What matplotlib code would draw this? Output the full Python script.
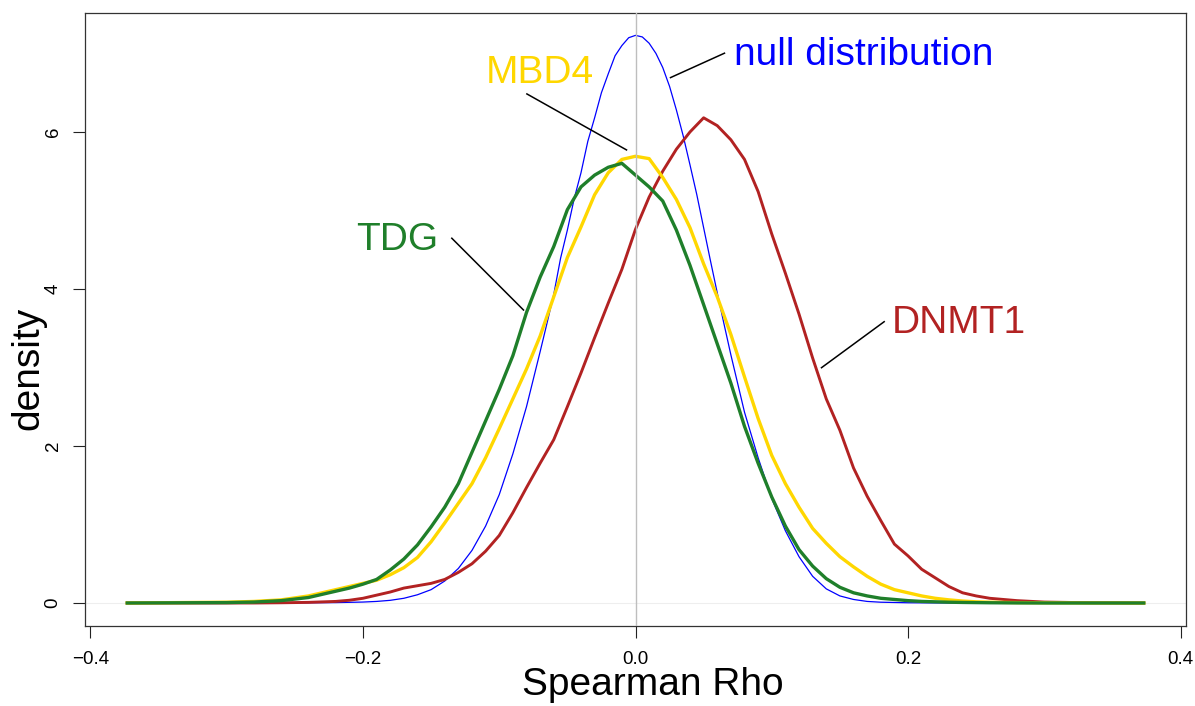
import matplotlib
matplotlib.use("Agg")
import matplotlib.pyplot as plt

plt.rcParams['font.family'] = ['Liberation Sans', 'DejaVu Sans']

# ---- data ----
rho = [-0.373, -0.30, -0.28, -0.26, -0.24, -0.22,
       -0.21, -0.20, -0.19, -0.18, -0.17, -0.16, -0.15, -0.14, -0.13, -0.12,
       -0.11, -0.10, -0.09, -0.08, -0.07, -0.06, -0.05, -0.04, -0.03, -0.02,
       -0.01, 0.00, 0.01, 0.02, 0.03, 0.04, 0.05, 0.06, 0.07, 0.08,
       0.09, 0.10, 0.11, 0.12, 0.13, 0.14, 0.15, 0.16, 0.17, 0.18,
       0.19, 0.20, 0.21, 0.22, 0.23, 0.24, 0.25, 0.26,
       0.28, 0.30, 0.33, 0.373]

null_rho = [-0.373, -0.30, -0.26, -0.22, -0.20, -0.19, -0.18, -0.17, -0.16,
            -0.15, -0.14, -0.13, -0.12, -0.11, -0.10, -0.09, -0.08, -0.07,
            -0.065, -0.06, -0.055, -0.05, -0.045, -0.04, -0.035, -0.03,
            -0.025, -0.02, -0.015, -0.01, -0.005, 0.0, 0.005, 0.01, 0.015,
            0.02, 0.025, 0.03, 0.035, 0.04, 0.045, 0.05, 0.055, 0.06, 0.065,
            0.07, 0.08, 0.09, 0.10, 0.11, 0.12, 0.13, 0.14, 0.15, 0.16, 0.17,
            0.18, 0.20, 0.22, 0.26, 0.30, 0.373]

null_density = [0, 0, 0.001, 0.005, 0.012, 0.020, 0.034, 0.06, 0.105,
                0.17, 0.28, 0.44, 0.67, 0.98, 1.38, 1.90, 2.50, 3.20,
                3.56, 3.93, 4.39, 4.75, 5.15, 5.48, 5.88, 6.18,
                6.50, 6.74, 6.97, 7.10, 7.20, 7.23, 7.21, 7.13, 7.00,
                6.82, 6.58, 6.28, 5.95, 5.58, 5.20, 4.78, 4.36, 3.95, 3.55,
                3.16, 2.43, 1.85, 1.33, 0.92, 0.59, 0.34, 0.18, 0.09, 0.045, 0.02,
                0.01, 0.003, 0.001, 0, 0, 0]

tdg_density = [0, 0.005, 0.012, 0.03, 0.07, 0.15,
               0.19, 0.24, 0.30, 0.42, 0.56, 0.74, 0.97, 1.22, 1.52, 1.92,
               2.32, 2.72, 3.15, 3.70, 4.15, 4.54, 5.01, 5.30, 5.45, 5.55,
               5.60, 5.45, 5.30, 5.12, 4.75, 4.30, 3.80, 3.30, 2.80, 2.25,
               1.78, 1.35, 0.98, 0.68, 0.47, 0.31, 0.20, 0.13, 0.09, 0.06,
               0.045, 0.03, 0.02, 0.015, 0.01, 0.007, 0.005, 0.003,
               0.001, 0, 0, 0]

mbd4_density = [0, 0.01, 0.02, 0.04, 0.09, 0.17,
                0.21, 0.25, 0.29, 0.36, 0.45, 0.58, 0.78, 1.02, 1.27, 1.52,
                1.85, 2.22, 2.60, 2.98, 3.40, 3.90, 4.40, 4.79, 5.20, 5.48,
                5.65, 5.69, 5.66, 5.42, 5.14, 4.78, 4.32, 3.90, 3.42, 2.88,
                2.35, 1.88, 1.52, 1.22, 0.95, 0.76, 0.59, 0.46, 0.34, 0.24,
                0.17, 0.13, 0.09, 0.06, 0.04, 0.025, 0.015, 0.01,
                0.005, 0.003, 0.001, 0]

dnmt1_density = [0, 0, 0, 0.003, 0.008, 0.02,
                 0.035, 0.06, 0.10, 0.14, 0.19, 0.22, 0.25, 0.30, 0.39, 0.50,
                 0.66, 0.86, 1.15, 1.47, 1.78, 2.08, 2.50, 2.93, 3.38, 3.82,
                 4.25, 4.76, 5.17, 5.50, 5.78, 6.00, 6.18, 6.08, 5.90, 5.65,
                 5.24, 4.70, 4.20, 3.68, 3.12, 2.60, 2.20, 1.72, 1.36, 1.05,
                 0.75, 0.60, 0.43, 0.32, 0.21, 0.13, 0.09, 0.06,
                 0.03, 0.012, 0.004, 0]

x_ticks = [-0.4, -0.2, 0.0, 0.2, 0.4]
x_tick_labels = ["\u22120.4", "\u22120.2", "0.0", "0.2", "0.4"]
y_ticks = [0, 2, 4, 6]
y_tick_labels = ["0", "2", "4", "6"]

# ---- figure ----
W, H = 1195, 706
fig = plt.figure(figsize=(W / 100, H / 100), dpi=100)
ax = fig.add_axes([85 / W, (H - 626) / H, (1186 - 85) / W, (626 - 12.6) / H])

ax.axhline(0, color='#eeeeee', lw=0.8, zorder=1)

ax.plot(null_rho, null_density, color='#0000FF', lw=0.9, zorder=2)
ax.plot(rho, dnmt1_density, color='#B22222', lw=2.1, zorder=3,
        solid_joinstyle='round')
ax.plot(rho, mbd4_density, color='#FFD700', lw=2.4, zorder=4,
        solid_joinstyle='round')
ax.plot(rho, tdg_density, color='#1F7F2A', lw=2.4, zorder=5,
        solid_joinstyle='round')

ax.axvline(0, color='#BEBEBE', lw=1.0, zorder=6)

ax.set_xlim(-0.404, 0.404)
ax.set_ylim(-0.293, 7.52)

ax.set_xticks(x_ticks)
ax.set_xticklabels(x_tick_labels)
ax.set_yticks(y_ticks)
ax.set_yticklabels(y_tick_labels, rotation=90, va='center')
ax.tick_params(axis='both', direction='out', length=8.8, width=0.8,
               labelsize=13.5, color='#222222')
ax.tick_params(axis='x', pad=9.5)
ax.tick_params(axis='y', pad=8)
for s in ax.spines.values():
    s.set_linewidth(0.9)
    s.set_color('#333333')

ax.set_xlabel("Spearman Rho", fontsize=28, va='baseline')
ax.xaxis.set_label_coords(0.516, -0.113)
ax.set_ylabel("density", fontsize=28, va='center')
ax.yaxis.set_label_coords(-57 / (1186 - 85), 0.42)

# ---- annotations ----
fs = 28
ax.text(0.1673, 6.854, "null distribution", color='#0000FF', fontsize=fs,
        ha='center', va='baseline')
ax.plot([0.0257, 0.0653], [6.692, 7.003], color='black', lw=1.1, zorder=7)

ax.text(-0.0701, 6.62, "MBD4", color='#FFD700', fontsize=fs,
        ha='center', va='baseline')
ax.plot([-0.0797, -0.0066], [6.484, 5.771], color='black', lw=1.1, zorder=7)

ax.text(-0.175, 4.497, "TDG", color='#1F7F2A', fontsize=fs,
        ha='center', va='baseline')
ax.plot([-0.1348, -0.0822], [4.646, 3.732], color='black', lw=1.1, zorder=7)

ax.text(0.2374, 3.436, "DNMT1", color='#B22222', fontsize=fs,
        ha='center', va='baseline')
ax.plot([0.1365, 0.1825], [2.997, 3.583], color='black', lw=1.1, zorder=7)

fig.savefig("out.png", dpi=100)
